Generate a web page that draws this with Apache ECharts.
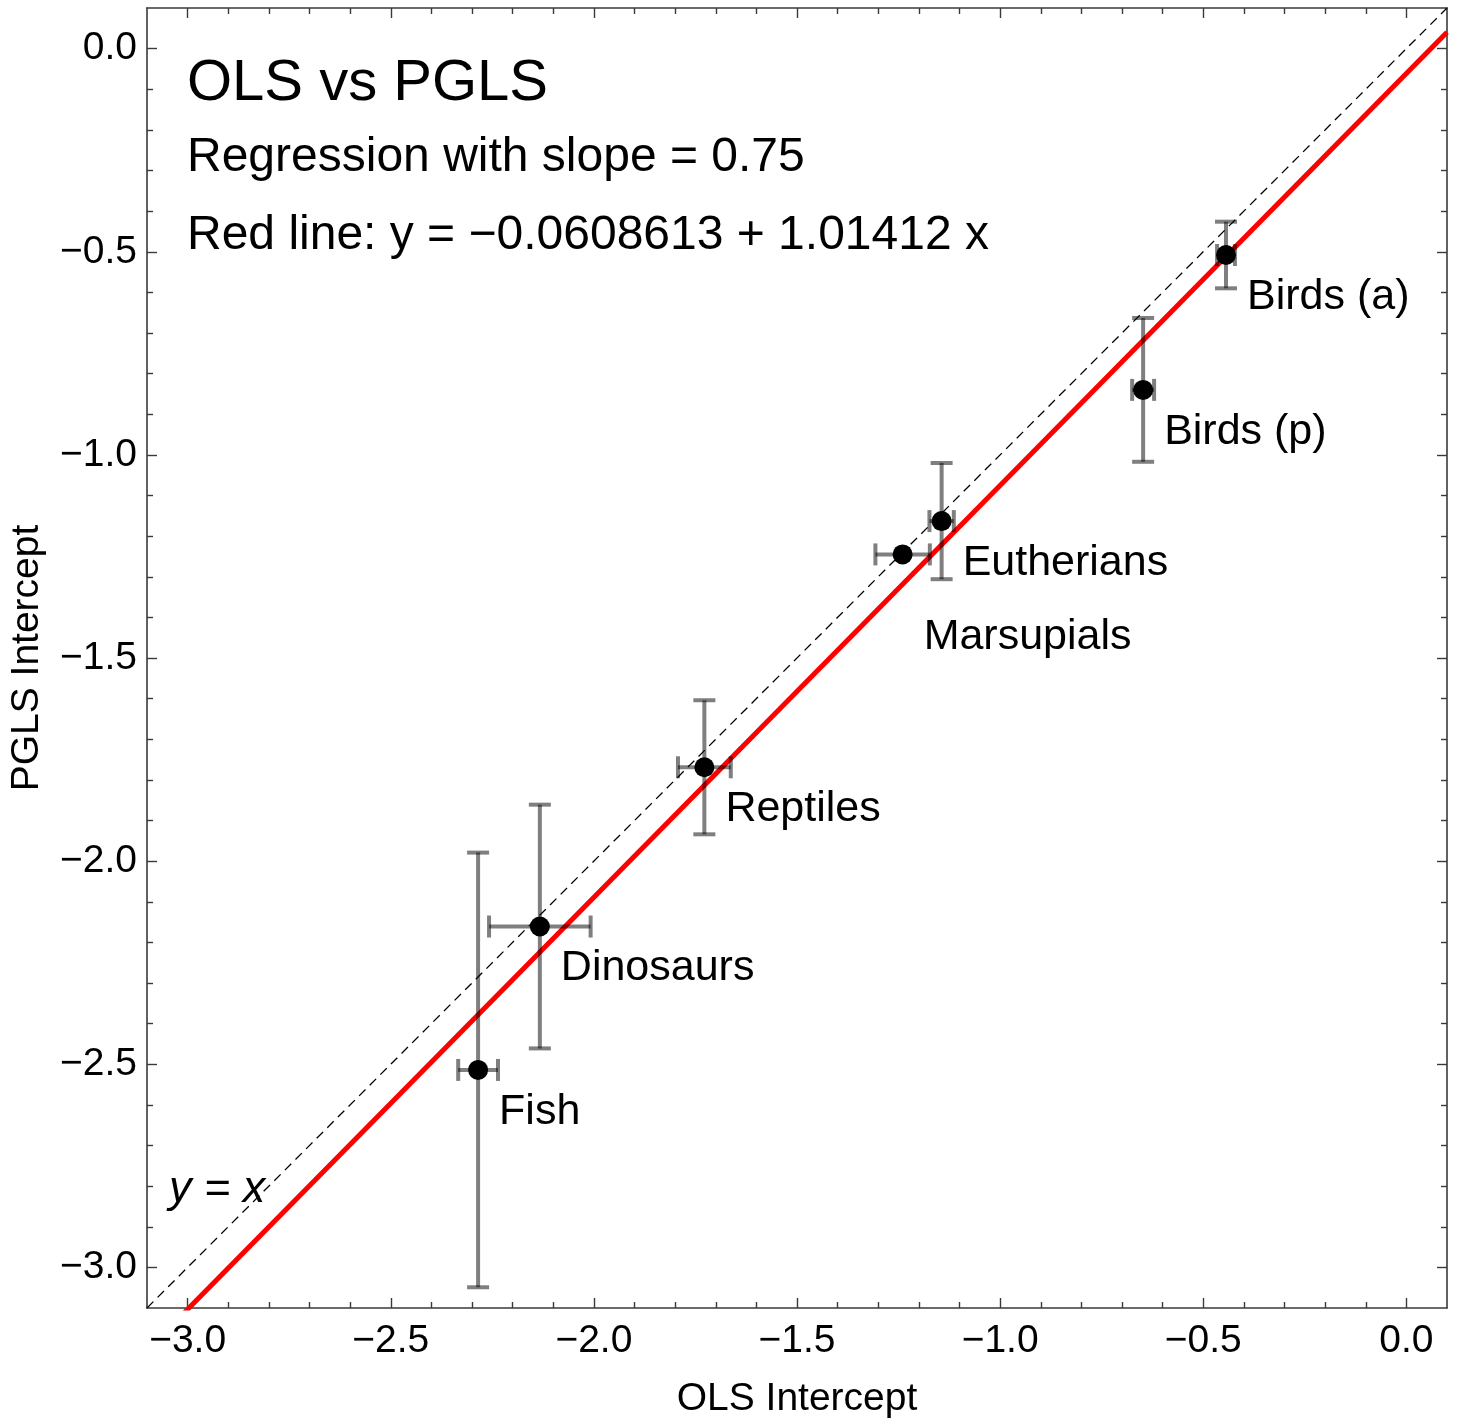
<!DOCTYPE html>
<html>
<head>
<meta charset="utf-8">
<script src="https://cdn.jsdelivr.net/npm/echarts@6/dist/echarts.min.js"></script>
<style>
  html, body { margin: 0; padding: 0; background: #fff; }
  #main { width: 1458px; height: 1418px; }
</style>
</head>
<body>
<div id="main"></div>
<script>
// data
var groups = ["Fish", "Dinosaurs", "Reptiles", "Marsupials", "Eutherians", "Birds (p)", "Birds (a)"];
var olsX = [-2.285, -2.133, -1.728, -1.240, -1.144, -0.648, -0.444];
var olsErr = [0.049, 0.125, 0.065, 0.067, 0.030, 0.027, 0.022];
var pglsY = [-2.514, -2.161, -1.769, -1.245, -1.163, -0.840, -0.508];
var pglsErr = [0.535, 0.300, 0.165, 0, 0.143, 0.177, 0.082];

var fitIntercept = -0.0608613;
var fitSlope = 1.01412;

var axisMin = -3.1, axisMax = 0.1;
var majorTicks = [-3.0, -2.5, -2.0, -1.5, -1.0, -0.5, 0.0];

// minor ticks every 0.1
var minorTicks = [];
for (var i = -30; i <= 0; i++) {
  if (i % 5 !== 0) minorTicks.push(i / 10);
}

var myChart = echarts.init(document.getElementById("main"));

var fontName = "Liberation Sans, Arial, sans-serif";
var frameColor = "#3a3a3a";

function fmt(v) {
  return (v < 0 ? "\u2212" : "") + Math.abs(v).toFixed(1);
}

function makeAxis(pos, ticks, len, withLabel, withLine, name) {
  var ax = {
    type: "value",
    position: pos,
    min: axisMin,
    max: axisMax,
    splitLine: { show: false },
    axisLine: { show: withLine, onZero: false, lineStyle: { color: frameColor, width: 1.6 } },
    axisTick: {
      show: true,
      inside: true,
      length: len,
      customValues: ticks,
      lineStyle: { color: frameColor, width: 1.4 },
    },
    axisLabel: {
      show: withLabel,
      customValues: majorTicks,
      formatter: fmt,
      color: "#000",
      fontFamily: fontName,
      fontSize: 39,
      margin: 10,
    },
  };
  if (name) {
    ax.name = name;
    ax.nameLocation = "middle";
    ax.nameTextStyle = { color: "#000", fontFamily: fontName, fontSize: 39 };
  }
  return ax;
}

var xAxes = [
  makeAxis("bottom", majorTicks, 10, true, true, "OLS Intercept"),
  makeAxis("bottom", minorTicks, 6, false, false),
  makeAxis("top", majorTicks, 10, false, true),
  makeAxis("top", minorTicks, 6, false, false),
];
xAxes[0].nameGap = 72;
xAxes[0].axisLabel.margin = 14;

var yAxes = [
  makeAxis("left", majorTicks, 10, true, true, "PGLS Intercept"),
  makeAxis("left", minorTicks, 6, false, false),
  makeAxis("right", majorTicks, 10, false, true),
  makeAxis("right", minorTicks, 6, false, false),
];
yAxes[0].nameGap = 100;

var pointData = groups.map(function (g, k) {
  var item = { name: g, value: [olsX[k], pglsY[k]] };
  if (g === "Marsupials") item.label = { position: [31, 93] };
  return item;
});

var errData = groups.map(function (g, k) {
  return [olsX[k], pglsY[k], olsErr[k], pglsErr[k]];
});

var option = {
  animation: false,
  backgroundColor: "#fff",
  grid: { left: 147, top: 8, width: 1300, height: 1300, outerBoundsMode: "none", containLabel: false },
  xAxis: xAxes,
  yAxis: yAxes,
  graphic: [
    {
      type: "text", left: 187, top: 55,
      style: { text: "OLS vs PGLS", font: "58px " + fontName, fill: "#000" },
    },
    {
      type: "text", left: 187, top: 134,
      style: { text: "Regression with slope = 0.75", font: "48px " + fontName, fill: "#000" },
    },
    {
      type: "text", left: 187, top: 212,
      style: { text: "Red line: y = \u22120.0608613 + 1.01412 x", font: "48px " + fontName, fill: "#000" },
    },
    {
      type: "text", left: 169, top: 1167,
      style: { text: "y = x", font: "italic 45px " + fontName, fill: "#000" },
    },
  ],
  series: [
    {
      // y = x
      type: "line",
      data: [[axisMin, axisMin], [axisMax, axisMax]],
      symbol: "none",
      lineStyle: { color: "#000", width: 1.3, type: [9, 6] },
      z: 1,
    },
    {
      // fitted line
      type: "line",
      data: [
        [axisMin, fitIntercept + fitSlope * axisMin],
        [axisMax, fitIntercept + fitSlope * axisMax],
      ],
      symbol: "none",
      clip: true,
      lineStyle: { color: "#ff0000", width: 5 },
      z: 2,
    },
    {
      type: "custom",
      data: errData,
      encode: { x: 0, y: 1 },
      z: 3,
      renderItem: function (params, api) {
        var x = api.value(0), y = api.value(1), ex = api.value(2), ey = api.value(3);
        var c = api.coord([x, y]);
        var cap = 11;
        var st = { stroke: "rgba(0,0,0,0.5)", lineWidth: 4 };
        var kids = [];
        function seg(x1, y1, x2, y2) {
          kids.push({ type: "line", shape: { x1: x1, y1: y1, x2: x2, y2: y2 }, style: st });
        }
        if (ey > 0) {
          var t = api.coord([x, y + ey])[1];
          var b = api.coord([x, y - ey])[1];
          seg(c[0], t, c[0], b);
          seg(c[0] - cap, t, c[0] + cap, t);
          seg(c[0] - cap, b, c[0] + cap, b);
        }
        if (ex > 0) {
          var l = api.coord([x - ex, y])[0];
          var r = api.coord([x + ex, y])[0];
          seg(l, c[1], r, c[1]);
          seg(l, c[1] - cap, l, c[1] + cap);
          seg(r, c[1] - cap, r, c[1] + cap);
        }
        return { type: "group", children: kids };
      },
    },
    {
      type: "scatter",
      data: pointData,
      symbol: "circle",
      symbolSize: 20,
      itemStyle: { color: "#000", opacity: 1 },
      z: 4,
      label: {
        show: true,
        formatter: "{b}",
        position: [31, 52],
        align: "left",
        verticalAlign: "middle",
        color: "#000",
        opacity: 1,
        fontFamily: fontName,
        fontSize: 43,
      },
    },
  ],
};

myChart.setOption(option);
</script>
</body>
</html>
